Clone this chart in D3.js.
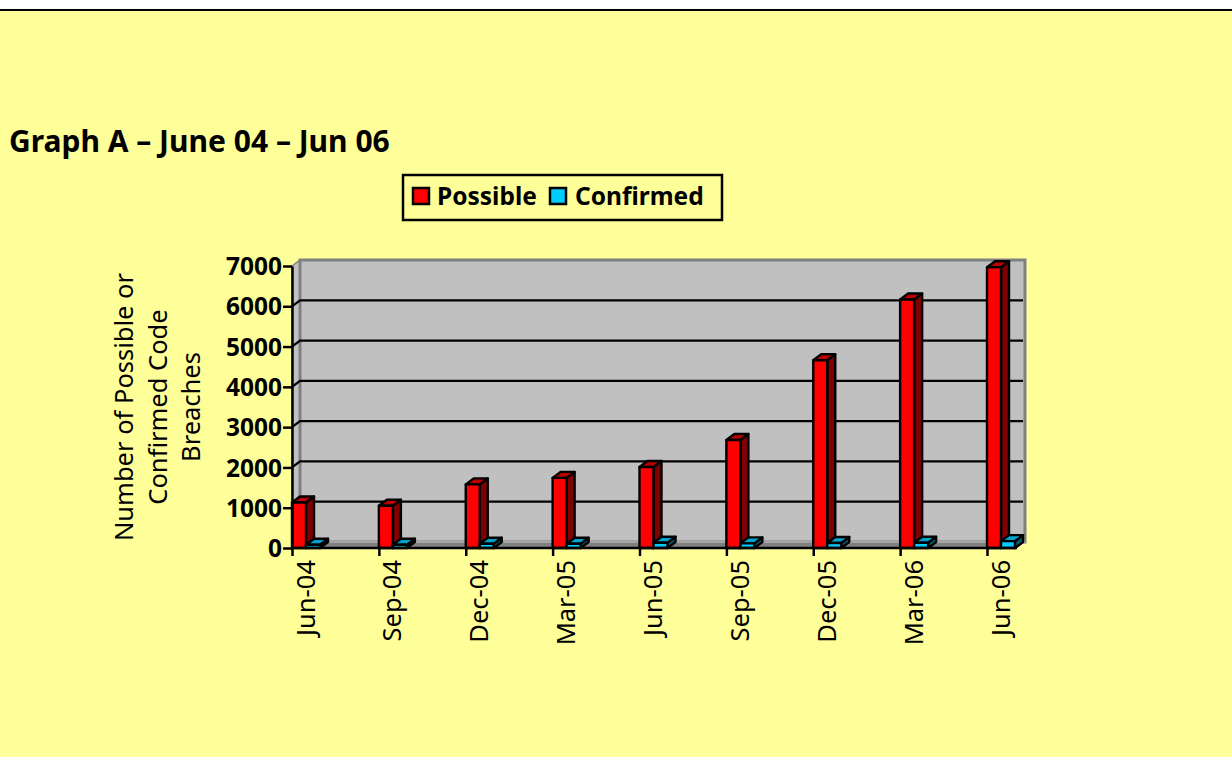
<!DOCTYPE html>
<html>
<head>
<meta charset="utf-8">
<script src="https://d3js.org/d3.v7.min.js"></script>
<style>
    html, body { margin: 0; padding: 0; background: #fff; }
    svg { display: block; }
    text { font-family: "Noto Sans", "DejaVu Sans", sans-serif; fill: #000; }
    .axis-y text { font-size: 24.5px; font-weight: bold; }
    .axis-x text { font-size: 25.5px; }
    .axis-y path, .axis-x path, .axis-y line, .axis-x line { stroke: #000; stroke-width: 2.5px; }
</style>
</head>
<body>
<div id="chart-container"></div>
<script>
// data
const categories = ['Jun-04', 'Sep-04', 'Dec-04', 'Mar-05', 'Jun-05', 'Sep-05', 'Dec-05', 'Mar-06', 'Jun-06']
const possible = [1130, 1050, 1580, 1740, 2010, 2680, 4660, 6170, 6970]
const confirmed = [80, 80, 105, 105, 130, 115, 125, 130, 170]
const yTicks = [0, 1000, 2000, 3000, 4000, 5000, 6000, 7000]
const axisTitle = ['Number of Possible or', 'Confirmed Code', 'Breaches']

const width = 1232
const height = 757
const plot = { left: 292, right: 1017, top: 266, bottom: 548 }
const depth = { x: 8, y: -6 } //the fake 3d offset
const barWidth = 14

const colors = {
    page: '#ffff99',
    wall: '#c0c0c0',
    wallEdge: '#808080',
    red: '#ff0000', redTop: '#c00000', redSide: '#800000',
    blue: '#00ccff', blueTop: '#00a3cc', blueSide: '#006680'
}

const svg = d3.select('#chart-container').append('svg')
    .attr('width', width)
    .attr('height', height)

//background
svg.append('rect').attr('y', 10).attr('width', width).attr('height', height - 10).attr('fill', colors.page)
svg.append('line').attr('x1', 0).attr('x2', width).attr('y1', 10).attr('y2', 10)
    .attr('stroke', '#000').attr('stroke-width', 2)

//title
svg.append('text').attr('class', 'title')
    .attr('x', 9).attr('y', 152)
    .style('font-size', '30px').style('font-weight', 'bold')
    .text('Graph A \u2013 June 04 \u2013 Jun 06')

//scales
const xScale = d3.scalePoint().domain(categories).range([plot.left, 987])
const yScale = d3.scaleLinear().domain([0, 7000]).range([plot.bottom, plot.top])

const poly = pts => pts.map(p => p.join(',')).join(' ')

//walls and floor
const chart = svg.append('g')
chart.append('polygon')
    .attr('points', poly([[plot.left, plot.top], [plot.left + depth.x, plot.top + depth.y], [plot.left + depth.x, plot.bottom + depth.y], [plot.left, plot.bottom]]))
    .attr('fill', colors.wall).attr('stroke', colors.wallEdge).attr('stroke-width', 1.5)
chart.append('rect')
    .attr('x', plot.left + depth.x).attr('y', plot.top + depth.y)
    .attr('width', plot.right - plot.left).attr('height', plot.bottom - plot.top)
    .attr('fill', colors.wall).attr('stroke', colors.wallEdge).attr('stroke-width', 3)
chart.append('polygon')
    .attr('points', poly([[plot.left, plot.bottom], [plot.left + depth.x, plot.bottom + depth.y], [plot.right + depth.x, plot.bottom + depth.y], [plot.right, plot.bottom]]))
    .attr('fill', colors.wallEdge)
chart.append('line')
    .attr('x1', plot.left + depth.x).attr('x2', plot.right + depth.x)
    .attr('y1', plot.bottom + depth.y).attr('y2', plot.bottom + depth.y)
    .attr('stroke', '#a6a6a6').attr('stroke-width', 2)

//gridlines on the back wall, with a short slanted bit on the side wall
const grid = chart.append('g')
grid.selectAll('path')
    .data(yTicks.filter(d => d > 0 && d < 7000))
    .enter()
    .append('path')
    .attr('d', d => `M${plot.left},${yScale(d)}L${plot.left + depth.x},${yScale(d) + depth.y}H${plot.right + depth.x - 2}`)
    .attr('fill', 'none').attr('stroke', '#000').attr('stroke-width', 2.2)

//bars
function drawBars(values, dx, front, top, side) {
    const g = chart.append('g')
    const x0 = (d, i) => xScale(categories[i]) + dx
    const style = sel => sel.attr('stroke', '#000').attr('stroke-width', 2.4).attr('stroke-linejoin', 'round')

    g.selectAll('.side').data(values).enter().append('polygon').attr('class', 'side')
        .attr('points', (d, i) => {
            const x = x0(d, i) + barWidth
            return poly([[x, yScale(d)], [x + depth.x, yScale(d) + depth.y], [x + depth.x, plot.bottom + depth.y], [x, plot.bottom]])
        })
        .attr('fill', side).call(style)
    g.selectAll('.top').data(values).enter().append('polygon').attr('class', 'top')
        .attr('points', (d, i) => {
            const x = x0(d, i)
            return poly([[x, yScale(d)], [x + depth.x, yScale(d) + depth.y], [x + barWidth + depth.x, yScale(d) + depth.y], [x + barWidth, yScale(d)]])
        })
        .attr('fill', top).call(style)
    g.selectAll('.front').data(values).enter().append('rect').attr('class', 'front')
        .attr('x', x0)
        .attr('y', d => yScale(d))
        .attr('width', barWidth)
        .attr('height', d => plot.bottom - yScale(d))
        .attr('fill', front).call(style)
}
drawBars(possible, 0, colors.red, colors.redTop, colors.redSide)
drawBars(confirmed, barWidth, colors.blue, colors.blueTop, colors.blueSide)

//y axis
const yAxis = svg.append('g')
    .attr('class', 'axis-y')
    .attr('transform', `translate(${plot.left},0)`)
    .call(d3.axisLeft(yScale).tickValues(yTicks).tickFormat(d3.format('d')).tickSize(9).tickSizeOuter(0))
yAxis.selectAll('text').attr('x', -10).attr('dy', '0.35em')

//x axis
const xAxis = svg.append('g')
    .attr('class', 'axis-x')
    .attr('transform', `translate(0,${plot.bottom})`)
    .call(d3.axisBottom(xScale).tickSize(8).tickSizeOuter(0))
xAxis.select('path').attr('d', `M${plot.left},0H${plot.right}`)
xAxis.selectAll('text')
    .attr('text-anchor', 'end')
    .attr('transform', 'translate(22,12) rotate(-90)')
    .attr('x', 0).attr('y', 0).attr('dy', 0)

//y axis title
svg.append('g').selectAll('text')
    .data(axisTitle)
    .enter()
    .append('text')
    .attr('text-anchor', 'middle')
    .attr('transform', (d, i) => `translate(${133 + i * 33.5},407) rotate(-90)`)
    .style('font-size', '25.5px')
    .text(d => d)

//legend
const legend = svg.append('g')
legend.append('rect')
    .attr('x', 403).attr('y', 175).attr('width', 319).attr('height', 45)
    .attr('fill', colors.page).attr('stroke', '#000').attr('stroke-width', 2.5)
const legendItems = [
    { name: 'Possible', color: colors.red, x: 413, tx: 437 },
    { name: 'Confirmed', color: colors.blue, x: 550, tx: 575 }
]
legend.selectAll('.swatch').data(legendItems).enter().append('rect').attr('class', 'swatch')
    .attr('x', d => d.x).attr('y', 188).attr('width', 16).attr('height', 16)
    .attr('fill', d => d.color).attr('stroke', '#000').attr('stroke-width', 2.5)
legend.selectAll('.label').data(legendItems).enter().append('text').attr('class', 'label')
    .attr('x', d => d.tx).attr('y', 205)
    .style('font-size', '24.5px').style('font-weight', 'bold')
    .text(d => d.name)
</script>
</body>
</html>
